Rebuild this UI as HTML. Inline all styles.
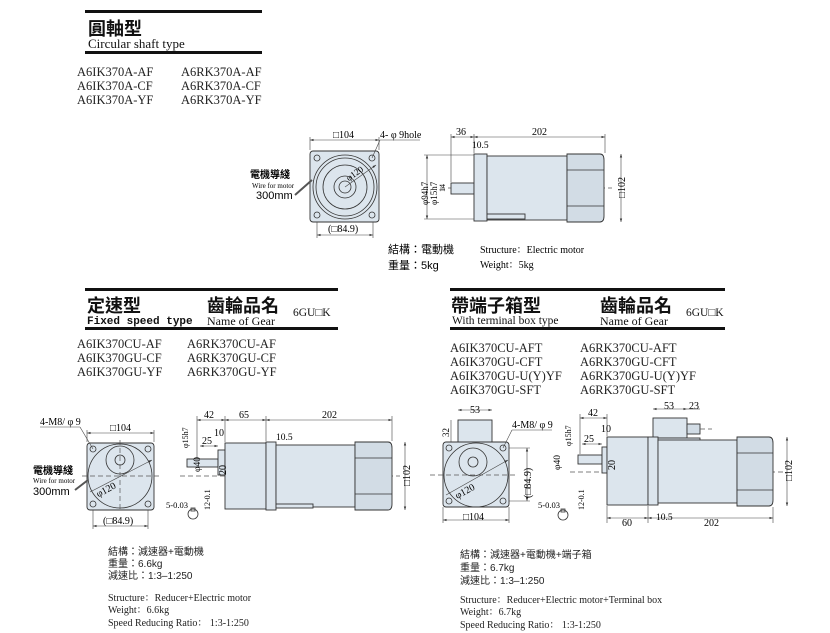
<!DOCTYPE html>
<html><head><meta charset="utf-8"><style>
html,body{margin:0;padding:0;background:#fff;}
svg{display:block;}
.s{font-family:"Liberation Serif","Noto Serif CJK SC",serif;}
.c{font-family:"Liberation Sans","Noto Sans CJK TC",sans-serif;}
.m{font-family:"Liberation Mono",monospace;}
.ln{stroke:#333;stroke-width:0.8;fill:none;}
.d{stroke:#444;stroke-width:0.6;fill:none;}
.cl{stroke:#555;stroke-width:0.7;stroke-dasharray:5,3;fill:none;}
.f{fill:#dce5ed;stroke:#333;stroke-width:0.9;}
.f2{fill:#d2dce5;stroke:#333;stroke-width:0.9;}
</style></head><body>
<svg width="830" height="633" viewBox="0 0 830 633" xmlns="http://www.w3.org/2000/svg">
<defs><marker id="a" markerWidth="6" markerHeight="6" refX="6" refY="3" orient="auto-start-reverse"><path d="M0,1 L6,3 L0,5z" fill="#333"/></marker></defs>
<g fill="#111">
<!-- top header -->
<rect x="85" y="10" width="177" height="3"/>
<rect x="85" y="51" width="177" height="3"/>
<text x="88" y="35" class="c" font-size="18" font-weight="bold">圓軸型</text>
<text x="88" y="48" class="s" font-size="13">Circular shaft type</text>
<g class="s" font-size="12.5" fill="#222">
<text x="77" y="76">A6IK370A-AF</text><text x="181" y="76">A6RK370A-AF</text>
<text x="77" y="90">A6IK370A-CF</text><text x="181" y="90">A6RK370A-CF</text>
<text x="77" y="104">A6IK370A-YF</text><text x="181" y="104">A6RK370A-YF</text>
</g>
<!-- mid-left header -->
<rect x="85" y="288" width="253" height="3"/>
<rect x="85" y="327" width="253" height="3"/>
<text x="87" y="312" class="c" font-size="18" font-weight="bold">定速型</text>
<text x="87" y="324" class="m" font-size="11" font-weight="bold">Fixed speed type</text>
<text x="207" y="312" class="c" font-size="18" font-weight="bold">齒輪品名</text>
<text x="207" y="325" class="s" font-size="12">Name of Gear</text>
<text x="293" y="316" class="s" font-size="11.5">6GU□K</text>
<g class="s" font-size="12.5" fill="#222">
<text x="77" y="348">A6IK370CU-AF</text><text x="187" y="348">A6RK370CU-AF</text>
<text x="77" y="362">A6IK370GU-CF</text><text x="187" y="362">A6RK370GU-CF</text>
<text x="77" y="376">A6IK370GU-YF</text><text x="187" y="376">A6RK370GU-YF</text>
</g>
<!-- mid-right header -->
<rect x="450" y="288" width="275" height="3"/>
<rect x="450" y="327" width="275" height="3"/>
<text x="451" y="312" class="c" font-size="18" font-weight="bold">帶端子箱型</text>
<text x="452" y="324" class="s" font-size="11.5">With terminal box type</text>
<text x="600" y="312" class="c" font-size="18" font-weight="bold">齒輪品名</text>
<text x="600" y="325" class="s" font-size="12">Name of Gear</text>
<text x="686" y="316" class="s" font-size="11.5">6GU□K</text>
<g class="s" font-size="12.5" fill="#222">
<text x="450" y="352">A6IK370CU-AFT</text><text x="580" y="352">A6RK370CU-AFT</text>
<text x="450" y="366">A6IK370GU-CFT</text><text x="580" y="366">A6RK370GU-CFT</text>
<text x="450" y="380">A6IK370GU-U(Y)YF</text><text x="580" y="380">A6RK370GU-U(Y)YF</text>
<text x="450" y="394">A6IK370GU-SFT</text><text x="580" y="394">A6RK370GU-SFT</text>
</g>
</g>

<!-- ===== TOP DRAWING ===== -->
<rect x="310" y="151" width="69" height="71" rx="3" class="f"/>
<circle cx="345" cy="187" r="32" class="ln"/><circle cx="345" cy="187" r="29" class="ln"/>
<circle cx="345" cy="187" r="22" class="ln"/><circle cx="345" cy="187" r="11" class="ln"/><circle cx="345" cy="187" r="6" class="ln"/>
<g class="ln"><circle cx="317" cy="158" r="3"/><circle cx="372" cy="158" r="3"/><circle cx="317" cy="215" r="3"/><circle cx="372" cy="215" r="3"/></g>
<line x1="345" y1="187" x2="376" y2="165" class="d" marker-end="url(#a)"/>
<text x="347" y="180" class="s" font-size="9" transform="rotate(-35 350 178)">φ120</text>
<line x1="310" y1="140" x2="379" y2="140" class="d" marker-start="url(#a)" marker-end="url(#a)"/>
<line x1="310" y1="137" x2="310" y2="150" class="d"/><line x1="379" y1="137" x2="379" y2="150" class="d"/>
<text x="333" y="138" class="s" font-size="10">□104</text>
<text x="380" y="138" class="s" font-size="10">4- φ 9hole</text>
<line x1="380" y1="140" x2="420" y2="140" class="d"/><line x1="380" y1="140" x2="372" y2="158" class="d"/>
<line x1="317" y1="235" x2="373" y2="235" class="d" marker-start="url(#a)" marker-end="url(#a)"/>
<line x1="317" y1="222" x2="317" y2="238" class="d"/><line x1="373" y1="222" x2="373" y2="238" class="d"/>
<text x="328" y="232" class="s" font-size="10">(□84.9)</text>
<text x="250" y="178" class="c" font-size="10" font-weight="bold">電機導綫</text>
<text x="252" y="188" class="s" font-size="7">Wire for motor</text>
<text x="256" y="199" class="c" font-size="11">300mm</text>
<path d="M295,195 L312,180" stroke="#555" stroke-width="2"/>
<!-- side -->
<line x1="440" y1="188" x2="612" y2="188" class="cl"/>
<rect x="451" y="183" width="23" height="11" class="f"/>
<rect x="474" y="154" width="13" height="67" class="f"/>
<rect x="487" y="156" width="80" height="64" class="f"/>
<rect x="487" y="214" width="38" height="5" class="f"/>
<path d="M567,154 H600 Q604,154 604,160 V216 Q604,222 600,222 H567 Z" class="f2"/>
<line x1="567" y1="170" x2="604" y2="170" class="ln"/><line x1="567" y1="206" x2="604" y2="206" class="ln"/>
<line x1="451" y1="134" x2="451" y2="182" class="d"/><line x1="474" y1="134" x2="474" y2="153" class="d"/><line x1="605" y1="134" x2="605" y2="153" class="d"/>
<line x1="451" y1="137" x2="474" y2="137" class="d" marker-start="url(#a)" marker-end="url(#a)"/>
<line x1="474" y1="137" x2="605" y2="137" class="d" marker-start="url(#a)" marker-end="url(#a)"/>
<text x="456" y="135" class="s" font-size="10">36</text><text x="532" y="135" class="s" font-size="10">202</text>
<text x="472" y="148" class="s" font-size="9.5">10.5</text>
<line x1="621" y1="154" x2="621" y2="222" class="d" marker-start="url(#a)" marker-end="url(#a)"/>
<text x="625" y="198" class="s" font-size="10" transform="rotate(-90 625 198)">□102</text>
<line x1="427" y1="155" x2="427" y2="219" class="d" marker-start="url(#a)" marker-end="url(#a)"/>
<line x1="424" y1="155" x2="474" y2="155" class="d"/><line x1="424" y1="219" x2="474" y2="219" class="d"/>
<text x="428" y="205" class="s" font-size="9" transform="rotate(-90 428 205)">φ94h7</text>
<text x="437" y="205" class="s" font-size="9" transform="rotate(-90 437 205)">φ15h7</text>
<text x="445" y="192" class="s" font-size="8" transform="rotate(-90 445 192)">14</text>
<text x="388" y="253" class="c" font-size="11">結構：電動機</text>
<text x="388" y="269" class="c" font-size="11">重量：5kg</text>
<text x="480" y="253" class="s" font-size="10">Structure：Electric motor</text>
<text x="480" y="268" class="s" font-size="10">Weight：5kg</text>

<!-- ===== MID-LEFT DRAWING ===== -->
<rect x="87" y="443" width="67" height="67" rx="3" class="f"/>
<circle cx="120" cy="476" r="32" class="ln"/>
<circle cx="120" cy="460" r="14" class="ln"/><circle cx="120" cy="460" r="5" class="ln"/>
<g class="ln"><circle cx="93" cy="449" r="3"/><circle cx="148" cy="449" r="3"/><circle cx="93" cy="504" r="3"/><circle cx="148" cy="504" r="3"/></g>
<line x1="82" y1="476" x2="160" y2="476" class="cl"/><line x1="120" y1="440" x2="120" y2="512" class="cl"/>
<line x1="90" y1="492" x2="152" y2="460" class="d" marker-end="url(#a)"/>
<text x="96" y="496" class="s" font-size="10" transform="rotate(-28 100 492)">φ120</text>
<line x1="87" y1="433" x2="154" y2="433" class="d" marker-start="url(#a)" marker-end="url(#a)"/>
<line x1="87" y1="430" x2="87" y2="442" class="d"/><line x1="154" y1="430" x2="154" y2="442" class="d"/>
<text x="110" y="431" class="s" font-size="10">□104</text>
<text x="40" y="425" class="s" font-size="10">4-M8/ φ 9</text>
<line x1="40" y1="427" x2="80" y2="427" class="d"/><line x1="80" y1="427" x2="93" y2="449" class="d"/>
<line x1="93" y1="526" x2="148" y2="526" class="d" marker-start="url(#a)" marker-end="url(#a)"/>
<line x1="93" y1="510" x2="93" y2="529" class="d"/><line x1="148" y1="510" x2="148" y2="529" class="d"/>
<text x="103" y="524" class="s" font-size="10">(□84.9)</text>
<text x="33" y="474" class="c" font-size="10" font-weight="bold">電機導綫</text>
<text x="33" y="483" class="s" font-size="7">Wire for motor</text>
<text x="33" y="495" class="c" font-size="11">300mm</text>
<path d="M75,490 L88,480" stroke="#555" stroke-width="2"/>
<!-- side -->
<line x1="180" y1="476" x2="400" y2="476" class="cl"/>
<rect x="187" y="459" width="31" height="8" class="f"/>
<rect x="218" y="450" width="7" height="25" class="f"/>
<rect x="225" y="443" width="41" height="66" class="f"/>
<rect x="266" y="442" width="10" height="68" class="f"/>
<rect x="276" y="445" width="79" height="62" class="f"/>
<rect x="276" y="504" width="37" height="4" class="f"/>
<path d="M355,442 H388 Q392,442 392,448 V504 Q392,510 388,510 H355 Z" class="f2"/>
<line x1="355" y1="458" x2="392" y2="458" class="ln"/><line x1="355" y1="494" x2="392" y2="494" class="ln"/>
<line x1="197" y1="416" x2="197" y2="458" class="d"/><line x1="225" y1="416" x2="225" y2="442" class="d"/><line x1="266" y1="416" x2="266" y2="441" class="d"/><line x1="392" y1="416" x2="392" y2="441" class="d"/>
<line x1="197" y1="420" x2="225" y2="420" class="d" marker-start="url(#a)" marker-end="url(#a)"/>
<line x1="225" y1="420" x2="266" y2="420" class="d" marker-start="url(#a)" marker-end="url(#a)"/>
<line x1="266" y1="420" x2="392" y2="420" class="d" marker-start="url(#a)" marker-end="url(#a)"/>
<text x="204" y="418" class="s" font-size="10">42</text><text x="239" y="418" class="s" font-size="10">65</text><text x="322" y="418" class="s" font-size="10">202</text>
<text x="202" y="444" class="s" font-size="10">25</text><text x="214" y="436" class="s" font-size="10">10</text>
<line x1="200" y1="446" x2="218" y2="446" class="d" marker-start="url(#a)" marker-end="url(#a)"/>
<text x="276" y="440" class="s" font-size="9.5">10.5</text>
<text x="188" y="448" class="s" font-size="8" transform="rotate(-90 188 448)">φ15h7</text>
<text x="200" y="472" class="s" font-size="9.5" transform="rotate(-90 200 472)">φ40</text>
<text x="226" y="475" class="s" font-size="10" transform="rotate(-90 226 475)">20</text>
<line x1="405" y1="442" x2="405" y2="510" class="d" marker-start="url(#a)" marker-end="url(#a)"/>
<text x="410" y="486" class="s" font-size="10" transform="rotate(-90 410 486)">□102</text>
<circle cx="193" cy="514" r="5" class="ln"/><rect x="191" y="508" width="4" height="3" class="ln"/>
<text x="166" y="508" class="s" font-size="8.5">5-0.03</text>
<text x="210" y="510" class="s" font-size="8" transform="rotate(-90 210 510)">12-0.1</text>
<g class="c" font-size="10" fill="#222">
<text x="108" y="555">結構：減速器+電動機</text>
<text x="108" y="567">重量：6.6kg</text>
<text x="108" y="579">減速比：1:3–1:250</text>
</g>
<g class="s" font-size="10" fill="#222">
<text x="108" y="601">Structure：Reducer+Electric motor</text>
<text x="108" y="613">Weight：6.6kg</text>
<text x="108" y="626">Speed Reducing Ratio： 1:3-1:250</text>
</g>

<!-- ===== MID-RIGHT DRAWING ===== -->
<rect x="458" y="420" width="34" height="22" class="f"/>
<rect x="443" y="442" width="66" height="65" rx="3" class="f"/>
<circle cx="476" cy="475" r="32" class="ln"/>
<circle cx="473" cy="462" r="14" class="ln"/><circle cx="473" cy="462" r="5" class="ln"/>
<g class="ln"><circle cx="449" cy="448" r="3"/><circle cx="503" cy="448" r="3"/><circle cx="449" cy="501" r="3"/><circle cx="503" cy="501" r="3"/></g>
<line x1="430" y1="475" x2="515" y2="475" class="cl"/>
<line x1="446" y1="495" x2="508" y2="460" class="d" marker-end="url(#a)"/>
<text x="455" y="498" class="s" font-size="10" transform="rotate(-28 458 494)">φ120</text>
<line x1="443" y1="520" x2="509" y2="520" class="d" marker-start="url(#a)" marker-end="url(#a)"/>
<line x1="443" y1="507" x2="443" y2="523" class="d"/><line x1="509" y1="507" x2="509" y2="523" class="d"/>
<text x="463" y="520" class="s" font-size="10">□104</text>
<line x1="458" y1="410" x2="492" y2="410" class="d" marker-start="url(#a)" marker-end="url(#a)"/>
<text x="470" y="413" class="s" font-size="10">53</text>
<line x1="451" y1="420" x2="451" y2="442" class="d"/>
<text x="449" y="437" class="s" font-size="9" transform="rotate(-90 449 437)">32</text>
<text x="512" y="428" class="s" font-size="10">4-M8/ φ 9</text>
<line x1="512" y1="430" x2="552" y2="430" class="d"/><line x1="512" y1="430" x2="503" y2="448" class="d"/>
<line x1="527" y1="448" x2="527" y2="501" class="d" marker-start="url(#a)" marker-end="url(#a)"/>
<line x1="509" y1="448" x2="530" y2="448" class="d"/><line x1="509" y1="501" x2="530" y2="501" class="d"/>
<text x="531" y="498" class="s" font-size="10" transform="rotate(-90 531 498)">(□84.9)</text>
<!-- side -->
<line x1="570" y1="472" x2="785" y2="472" class="cl"/>
<rect x="653" y="418" width="34" height="20" class="f"/>
<rect x="687" y="424" width="13" height="10" class="f2"/>
<line x1="700" y1="429" x2="712" y2="429" class="cl"/>
<rect x="653" y="438" width="47" height="3" class="f"/>
<rect x="578" y="455" width="24" height="9" class="f"/>
<rect x="602" y="447" width="5" height="26" class="f"/>
<rect x="607" y="437" width="41" height="68" class="f"/>
<rect x="648" y="437" width="10" height="68" class="f"/>
<rect x="658" y="440" width="79" height="63" class="f"/>
<path d="M737,437 H769 Q773,437 773,443 V500 Q773,506 769,506 H737 Z" class="f2"/>
<line x1="737" y1="453" x2="773" y2="453" class="ln"/><line x1="737" y1="490" x2="773" y2="490" class="ln"/>
<line x1="580" y1="414" x2="580" y2="454" class="d"/><line x1="607" y1="414" x2="607" y2="436" class="d"/>
<line x1="580" y1="418" x2="607" y2="418" class="d" marker-start="url(#a)" marker-end="url(#a)"/>
<text x="588" y="416" class="s" font-size="10">42</text>
<line x1="582" y1="444" x2="602" y2="444" class="d" marker-start="url(#a)" marker-end="url(#a)"/>
<text x="584" y="442" class="s" font-size="10">25</text><text x="601" y="432" class="s" font-size="10">10</text>
<text x="571" y="446" class="s" font-size="8" transform="rotate(-90 571 446)">φ15h7</text>
<text x="560" y="470" class="s" font-size="9.5" transform="rotate(-90 560 470)">φ40</text>
<text x="615" y="470" class="s" font-size="10" transform="rotate(-90 615 470)">20</text>
<line x1="653" y1="409" x2="687" y2="409" class="d" marker-start="url(#a)" marker-end="url(#a)"/>
<line x1="687" y1="409" x2="700" y2="409" class="d"/>
<text x="664" y="409" class="s" font-size="10">53</text><text x="689" y="409" class="s" font-size="10">23</text>
<line x1="607" y1="506" x2="607" y2="523" class="d"/><line x1="648" y1="506" x2="648" y2="523" class="d"/><line x1="773" y1="507" x2="773" y2="523" class="d"/>
<line x1="607" y1="518" x2="648" y2="518" class="d" marker-start="url(#a)" marker-end="url(#a)"/>
<line x1="648" y1="518" x2="773" y2="518" class="d" marker-start="url(#a)" marker-end="url(#a)"/>
<text x="622" y="526" class="s" font-size="10">60</text><text x="656" y="520" class="s" font-size="9.5">10.5</text><text x="704" y="526" class="s" font-size="10">202</text>
<line x1="787" y1="437" x2="787" y2="506" class="d" marker-start="url(#a)" marker-end="url(#a)"/>
<text x="792" y="481" class="s" font-size="10" transform="rotate(-90 792 481)">□102</text>
<circle cx="563" cy="515" r="5" class="ln"/><rect x="561" y="509" width="4" height="3" class="ln"/>
<text x="538" y="508" class="s" font-size="8.5">5-0.03</text>
<text x="584" y="510" class="s" font-size="8" transform="rotate(-90 584 510)">12-0.1</text>
<g class="c" font-size="10" fill="#222">
<text x="460" y="558">結構：減速器+電動機+端子箱</text>
<text x="460" y="571">重量：6.7kg</text>
<text x="460" y="584">減速比：1:3–1:250</text>
</g>
<g class="s" font-size="10" fill="#222">
<text x="460" y="603">Structure：Reducer+Electric motor+Terminal box</text>
<text x="460" y="615">Weight：6.7kg</text>
<text x="460" y="628">Speed Reducing Ratio： 1:3-1:250</text>
</g>
</svg>
</body></html>
